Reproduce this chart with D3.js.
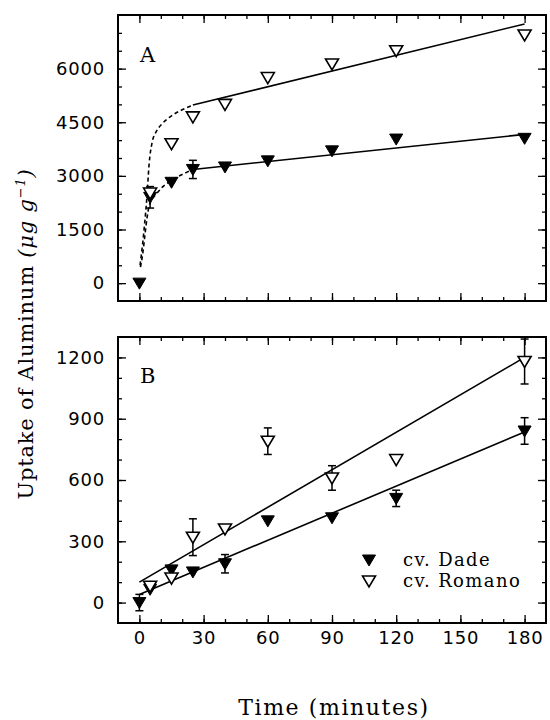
<!DOCTYPE html>
<html lang="en">
<head>
<meta charset="utf-8">
<style>
  html, body { margin:0; padding:0; background:#fff; overflow:hidden }
  svg { display:block }
  .tick text { font-family: "DejaVu Sans", sans-serif; font-size: 18px; fill:#000; letter-spacing: 0.8px }
  .tick line { stroke:#000; stroke-width:1.3px }
  .frame { fill:none; stroke:#000; stroke-width:2px }
  .fit { fill:none; stroke:#000; stroke-width:1.6px }
  .dash { stroke-dasharray: 4,3 }
  .err { stroke:#000; stroke-width:1.5px; fill:none }
  .lbl { font-family: "DejaVu Serif", serif; fill:#000 }
</style>
</head>
<body>
<svg width="550" height="720"></svg>
<script src="https://cdnjs.cloudflare.com/ajax/libs/d3/7.8.5/d3.min.js"></script>
<script>
// sampling times (minutes)
var times = [0, 5, 15, 25, 40, 60, 90, 120, 180];

// panel A - uptake (ug/g)
var dadeA      = [0, 2400, 2820, 3180, 3250, 3420, 3700, 4030, 4050];
var dadeAErr   = [0, 300, 0, 255, 0, 0, 0, 0, 0];
var romanoA    = [null, 2520, 3900, 4650, 5000, 5750, 6130, 6500, 6940];
var romanoAErr = [0, 0, 0, 0, 0, 0, 0, 0, 0];

// panel A - fitted curves (dashed early part, solid later part)
var romanoDashT = [0.3, 1.5, 2.5, 3.5, 4.5, 6, 8, 11, 15, 20, 25];
var romanoDashV = [500, 1100, 1700, 2400, 3300, 3950, 4250, 4480, 4680, 4850, 4980];
var romanoLineT = [25, 180];
var romanoLineV = [4980, 7250];
var dadeDashT = [0.5, 1.5, 2.5, 3.5, 4.5, 6, 8, 11, 15, 20, 25];
var dadeDashV = [450, 800, 1300, 1800, 2150, 2350, 2500, 2700, 2870, 3040, 3180];
var dadeLineT = [25, 180];
var dadeLineV = [3180, 4160];

// panel B
var dadeB      = [0, 65, 160, 150, 190, 400, 415, 510, 840];
var dadeBErr   = [40, 0, 0, 0, 45, 0, 0, 40, 65];
var romanoB    = [null, 80, 120, 320, 360, 790, 610, 700, 1180];
var romanoBErr = [0, 0, 0, 90, 0, 65, 60, 0, 110];

// panel B - linear fits
var romanoFitT = [0, 180];
var romanoFitV = [100, 1200];
var dadeFitT = [0, 180];
var dadeFitV = [40, 835];

var xMajor = [0, 30, 60, 90, 120, 150, 180];
var yMajorA = [0, 1500, 3000, 4500, 6000];
var yMajorB = [0, 300, 600, 900, 1200];

var svg = d3.select("svg");
var left = 118, right = 546;
var fmt = d3.format("d");

var x = d3.scaleLinear().domain([-10, 190]).range([left, right]);
var yA = d3.scaleLinear().domain([-500, 7500]).range([301, 15]);
var yB = d3.scaleLinear().domain([-100, 1300]).range([623, 337]);

var tri = "M-6.5,-5 L6.5,-5 L0,6 Z";

function pairs(t, v) {
    return t.map(function (d, i) { return [d, v[i]]; });
}

function drawPanel(y, top, bottom, yMajor, yMinor, showX) {
    var g = svg.append("g");

    // minor ticks on four sides
    g.append("g").attr("transform", "translate(0," + bottom + ")")
        .call(d3.axisBottom(x).tickValues(d3.range(0, 181, 10)).tickSize(-4).tickFormat(""));
    g.append("g").attr("transform", "translate(0," + top + ")")
        .call(d3.axisTop(x).tickValues(d3.range(0, 181, 10)).tickSize(-4).tickFormat(""));
    g.append("g").attr("transform", "translate(" + left + ",0)")
        .call(d3.axisLeft(y).tickValues(yMinor).tickSize(-4).tickFormat(""));
    g.append("g").attr("transform", "translate(" + right + ",0)")
        .call(d3.axisRight(y).tickValues(yMinor).tickSize(-4).tickFormat(""));

    // major ticks
    var xb = d3.axisBottom(x).tickValues(xMajor).tickSize(-8).tickPadding(8).tickFormat(fmt);
    if (!showX) xb.tickFormat("");
    g.append("g").attr("transform", "translate(0," + bottom + ")").call(xb);
    g.append("g").attr("transform", "translate(0," + top + ")")
        .call(d3.axisTop(x).tickValues(xMajor).tickSize(-8).tickFormat(""));
    g.append("g").attr("transform", "translate(" + left + ",0)")
        .call(d3.axisLeft(y).tickValues(yMajor).tickSize(-8).tickPadding(13).tickFormat(fmt));
    g.append("g").attr("transform", "translate(" + right + ",0)")
        .call(d3.axisRight(y).tickValues(yMajor).tickSize(-8).tickFormat(""));

    g.selectAll(".domain").remove();

    g.append("rect").attr("class", "frame")
        .attr("x", left).attr("y", top)
        .attr("width", right - left).attr("height", bottom - top);
    return g;
}

function drawFit(g, y, t, v, dashed) {
    var line = d3.line().curve(d3.curveMonotoneX)
        .x(function (d) { return x(d[0]); })
        .y(function (d) { return y(d[1]); });
    g.append("path")
        .attr("class", dashed ? "fit dash" : "fit")
        .attr("d", line(pairs(t, v)));
}

function drawSeries(g, y, vals, errs, filled) {
    var data = times.map(function (d, i) { return {t: d, v: vals[i], e: errs[i]}; })
        .filter(function (d) { return d.v != null; });

    var eb = g.selectAll(null)
        .data(data.filter(function (d) { return d.e > 0; }))
        .enter().append("g").attr("class", "err");
    eb.append("line")
        .attr("x1", function (d) { return x(d.t); })
        .attr("x2", function (d) { return x(d.t); })
        .attr("y1", function (d) { return y(d.v - d.e); })
        .attr("y2", function (d) { return y(d.v + d.e); });
    [-1, 1].forEach(function (s) {
        eb.append("line")
            .attr("x1", function (d) { return x(d.t) - 4; })
            .attr("x2", function (d) { return x(d.t) + 4; })
            .attr("y1", function (d) { return y(d.v + s * d.e); })
            .attr("y2", function (d) { return y(d.v + s * d.e); });
    });

    g.selectAll(null).data(data).enter().append("path")
        .attr("d", tri)
        .attr("transform", function (d) { return "translate(" + x(d.t) + "," + y(d.v) + ")"; })
        .attr("fill", filled ? "#000" : "#fff")
        .attr("stroke", "#000")
        .attr("stroke-width", filled ? 1 : 1.6)
        .attr("stroke-linejoin", "miter");
}

// ---- panel A
var gA = drawPanel(yA, 15, 301, yMajorA, d3.range(0, 7001, 500), false);
drawFit(gA, yA, romanoDashT, romanoDashV, true);
drawFit(gA, yA, dadeDashT, dadeDashV, true);
drawFit(gA, yA, romanoLineT, romanoLineV, false);
drawFit(gA, yA, dadeLineT, dadeLineV, false);
drawSeries(gA, yA, dadeA, dadeAErr, true);
drawSeries(gA, yA, romanoA, romanoAErr, false);
gA.append("text").attr("class", "lbl").attr("x", 140).attr("y", 62)
    .style("font-size", "21px").text("A");

// ---- panel B
var gB = drawPanel(yB, 337, 623, yMajorB, d3.range(0, 1201, 100), true);
drawFit(gB, yB, romanoFitT, romanoFitV, false);
drawFit(gB, yB, dadeFitT, dadeFitV, false);
drawSeries(gB, yB, dadeB, dadeBErr, true);
drawSeries(gB, yB, romanoB, romanoBErr, false);
gB.append("text").attr("class", "lbl").attr("x", 140).attr("y", 383)
    .style("font-size", "21px").text("B");

// legend
var legend = gB.append("g");
[["cv. Dade", true], ["cv. Romano", false]].forEach(function (d, i) {
    var ly = 560 + i * 21;
    legend.append("path").attr("d", tri)
        .attr("transform", "translate(369," + ly + ")")
        .attr("fill", d[1] ? "#000" : "#fff")
        .attr("stroke", "#000").attr("stroke-width", d[1] ? 1 : 1.6);
    legend.append("text").attr("class", "lbl")
        .attr("x", 403).attr("y", ly + 6)
        .style("font-size", "18px").style("letter-spacing", "1.4px")
        .text(d[0]);
});

// axis titles
var yt = svg.append("text").attr("class", "lbl")
    .attr("transform", "translate(33,334) rotate(-90)")
    .attr("text-anchor", "middle")
    .style("font-size", "21px").style("letter-spacing", "0.8px");
yt.append("tspan").text("Uptake of Aluminum ");
yt.append("tspan").style("font-style", "italic").text("(\u03bcg g");
yt.append("tspan").style("font-style", "italic").style("font-size", "13px")
    .attr("dy", "-8").text("\u22121");
yt.append("tspan").style("font-style", "italic").attr("dy", "8").text(")");

svg.append("text").attr("class", "lbl")
    .attr("x", 334).attr("y", 715)
    .attr("text-anchor", "middle")
    .style("font-size", "22px").style("letter-spacing", "1.6px")
    .text("Time (minutes)");
</script>
</body>
</html>
